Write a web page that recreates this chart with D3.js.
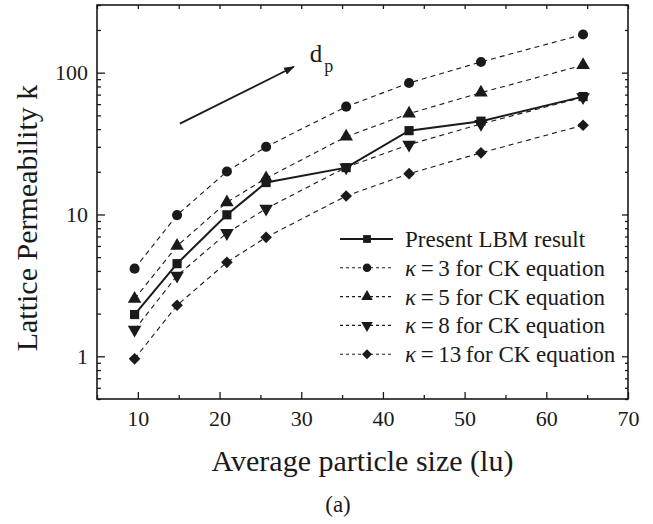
<!DOCTYPE html>
<html lang="en">

<head>
    <meta charset="UTF-8" />
    <title>Lattice permeability</title>
    <script src="https://cdn.jsdelivr.net/npm/d3@7"></script>
    <style>
        body { margin: 0; background: #fff; }
        text { font-family: "Liberation Serif", "Times New Roman", serif; fill: #1a1a1a; }
    </style>
</head>

<body>
<script>
    // data
    let particleSize = [9.6, 14.8, 20.9, 25.7, 35.5, 43.2, 52.0, 64.5];
    let lbm = [1.97, 4.5, 9.95, 16.8, 21.4, 39.0, 45.5, 67.8];
    let ck3 = [4.15, 9.9, 20.1, 30.0, 57.6, 84.6, 119, 186];
    let ck5 = [2.54, 6.0, 12.2, 18.0, 35.4, 51.4, 72.3, 113];
    let ck8 = [1.54, 3.7, 7.4, 11.0, 21.5, 31.1, 43.5, 67.1];
    let ck13 = [0.96, 2.29, 4.6, 6.9, 13.5, 19.4, 27.2, 42.6];

    let xTicks = [10, 20, 30, 40, 50, 60, 70];
    let xMinor = [5, 15, 25, 35, 45, 55, 65];
    let yTicks = [1, 10, 100];

    let w = 653, h = 524;
    let m = { left: 97, top: 5, right: 25, bottom: 125 };
    let iw = w - m.left - m.right;
    let ih = h - m.top - m.bottom;
    let ink = "#1a1a1a";

    let svg = d3.select("body").append("svg")
        .attr("width", w)
        .attr("height", h);

    let g = svg.append("g")
        .attr("transform", `translate(${m.left},${m.top})`);

    let x = d3.scaleLinear().domain([5, 70]).range([0, iw]);
    let y = d3.scaleLog().domain([0.5, 300]).range([ih, 0]);

    let yMinor = y.ticks().filter(v => !yTicks.includes(v));

    // axes: ticks point inwards, mirrored on top and right
    function styleAxis(sel) {
        sel.select(".domain").remove();
        sel.selectAll("line").attr("stroke", ink).attr("stroke-width", 1.3);
        sel.selectAll("text").attr("font-size", 22).attr("font-family", "Liberation Serif").attr("fill", ink);
    }

    g.append("g").attr("transform", `translate(0,${ih})`)
        .call(d3.axisBottom(x).tickValues(xTicks).tickSize(-7).tickPadding(11).tickFormat(d3.format("d")))
        .call(styleAxis);
    g.append("g").attr("transform", `translate(0,${ih})`)
        .call(d3.axisBottom(x).tickValues(xMinor).tickSize(-4).tickFormat(""))
        .call(styleAxis);
    g.append("g")
        .call(d3.axisTop(x).tickValues(xTicks.concat(xMinor)).tickSize(-4).tickFormat(""))
        .call(styleAxis);

    g.append("g")
        .call(d3.axisLeft(y).tickValues(yTicks).tickSize(-8).tickPadding(9).tickFormat(d3.format("d")))
        .call(styleAxis);
    g.append("g")
        .call(d3.axisLeft(y).tickValues(yMinor).tickSize(-4).tickFormat(""))
        .call(styleAxis);
    g.append("g").attr("transform", `translate(${iw},0)`)
        .call(d3.axisRight(y).tickValues(yTicks).tickSize(-6).tickFormat(""))
        .call(styleAxis);
    g.append("g").attr("transform", `translate(${iw},0)`)
        .call(d3.axisRight(y).tickValues(yMinor).tickSize(-3).tickFormat(""))
        .call(styleAxis);

    g.append("rect")
        .attr("width", iw)
        .attr("height", ih)
        .attr("fill", "none")
        .attr("stroke", ink)
        .attr("stroke-width", 1.6);

    // series
    let series = [
        { name: "k3", values: ck3, symbol: d3.symbol().type(d3.symbolCircle).size(80)(), rot: 0, dash: "5,4", width: 1.1 },
        { name: "k5", values: ck5, symbol: d3.symbol().type(d3.symbolTriangle).size(80)(), rot: 0, dash: "5,4", width: 1.1 },
        { name: "k8", values: ck8, symbol: d3.symbol().type(d3.symbolTriangle).size(80)(), rot: 180, dash: "5,4", width: 1.1 },
        { name: "k13", values: ck13, symbol: d3.symbol().type(d3.symbolSquare).size(68)(), rot: 45, dash: "5,4", width: 1.1 },
        { name: "lbm", values: lbm, symbol: d3.symbol().type(d3.symbolSquare).size(84)(), rot: 0, dash: null, width: 2 }
    ];

    let line = d3.line()
        .x((d, i) => x(particleSize[i]))
        .y(d => y(d));

    series.forEach(s => {
        g.append("path")
            .datum(s.values)
            .attr("d", line)
            .attr("fill", "none")
            .attr("stroke", ink)
            .attr("stroke-width", s.width)
            .attr("stroke-dasharray", s.dash);

        g.selectAll(".pt-" + s.name)
            .data(s.values)
            .enter()
            .append("path")
            .attr("class", "pt-" + s.name)
            .attr("d", s.symbol)
            .attr("fill", ink)
            .attr("transform", (d, i) => `translate(${x(particleSize[i])},${y(d)}) rotate(${s.rot})`);
    });

    // arrow with d_p label
    svg.append("defs").append("marker")
        .attr("id", "head")
        .attr("viewBox", "0 0 10 10")
        .attr("refX", 9).attr("refY", 5)
        .attr("markerWidth", 6).attr("markerHeight", 6)
        .attr("markerUnits", "strokeWidth")
        .attr("orient", "auto")
        .append("path")
        .attr("d", "M0,1.5 L10,5 L0,8.5 Z")
        .attr("fill", ink);

    g.append("line")
        .attr("x1", x(15.15)).attr("y1", y(43.7))
        .attr("x2", x(29.1)).attr("y2", y(110))
        .attr("stroke", ink)
        .attr("stroke-width", 1.8)
        .attr("marker-end", "url(#head)");

    let dp = g.append("text")
        .attr("x", x(31.05))
        .attr("y", y(119))
        .attr("font-size", 25);
    dp.append("tspan").text("d");
    dp.append("tspan").attr("font-size", 18).attr("dy", 10).attr("dx", 2).text("p");

    // legend
    let legendRows = [
        { label: null, text: "Present LBM result", s: series[4] },
        { label: "3", text: "for CK equation", s: series[0] },
        { label: "5", text: "for CK equation", s: series[1] },
        { label: "8", text: "for CK equation", s: series[2] },
        { label: "13", text: "for CK equation", s: series[3] }
    ];

    let lg = svg.append("g").attr("transform", "translate(340,239)");
    legendRows.forEach((r, i) => {
        let row = lg.append("g").attr("transform", `translate(0,${i * 28.8})`);
        row.append("line")
            .attr("x1", 0).attr("x2", 53)
            .attr("stroke", ink)
            .attr("stroke-width", r.s.width)
            .attr("stroke-dasharray", r.s.dash ? "3,3" : null);
        row.append("path")
            .attr("d", r.s.symbol)
            .attr("fill", ink)
            .attr("transform", `translate(27,0) rotate(${r.s.rot}) scale(0.85)`);
        let t = row.append("text")
            .attr("x", 65)
            .attr("y", 8)
            .attr("font-size", 23);
        if (r.label === null) {
            t.text(r.text);
        } else {
            t.append("tspan").attr("font-style", "italic").text("\u03BA");
            t.append("tspan").text("\u2009=\u2009" + r.label + (r.label.length > 1 ? "\u2009" : " ") + r.text);
        }
    });

    // axis titles
    svg.append("text")
        .attr("x", m.left + iw / 2)
        .attr("y", 471)
        .attr("text-anchor", "middle")
        .attr("font-size", 30)
        .text("Average particle size (lu)");

    svg.append("text")
        .attr("transform", "translate(37,218) rotate(-90)")
        .attr("text-anchor", "middle")
        .attr("font-size", 30)
        .text("Lattice Permeability k");

    svg.append("text")
        .attr("x", 338)
        .attr("y", 512)
        .attr("text-anchor", "middle")
        .attr("font-size", 23)
        .text("(a)");
</script>
</body>

</html>
